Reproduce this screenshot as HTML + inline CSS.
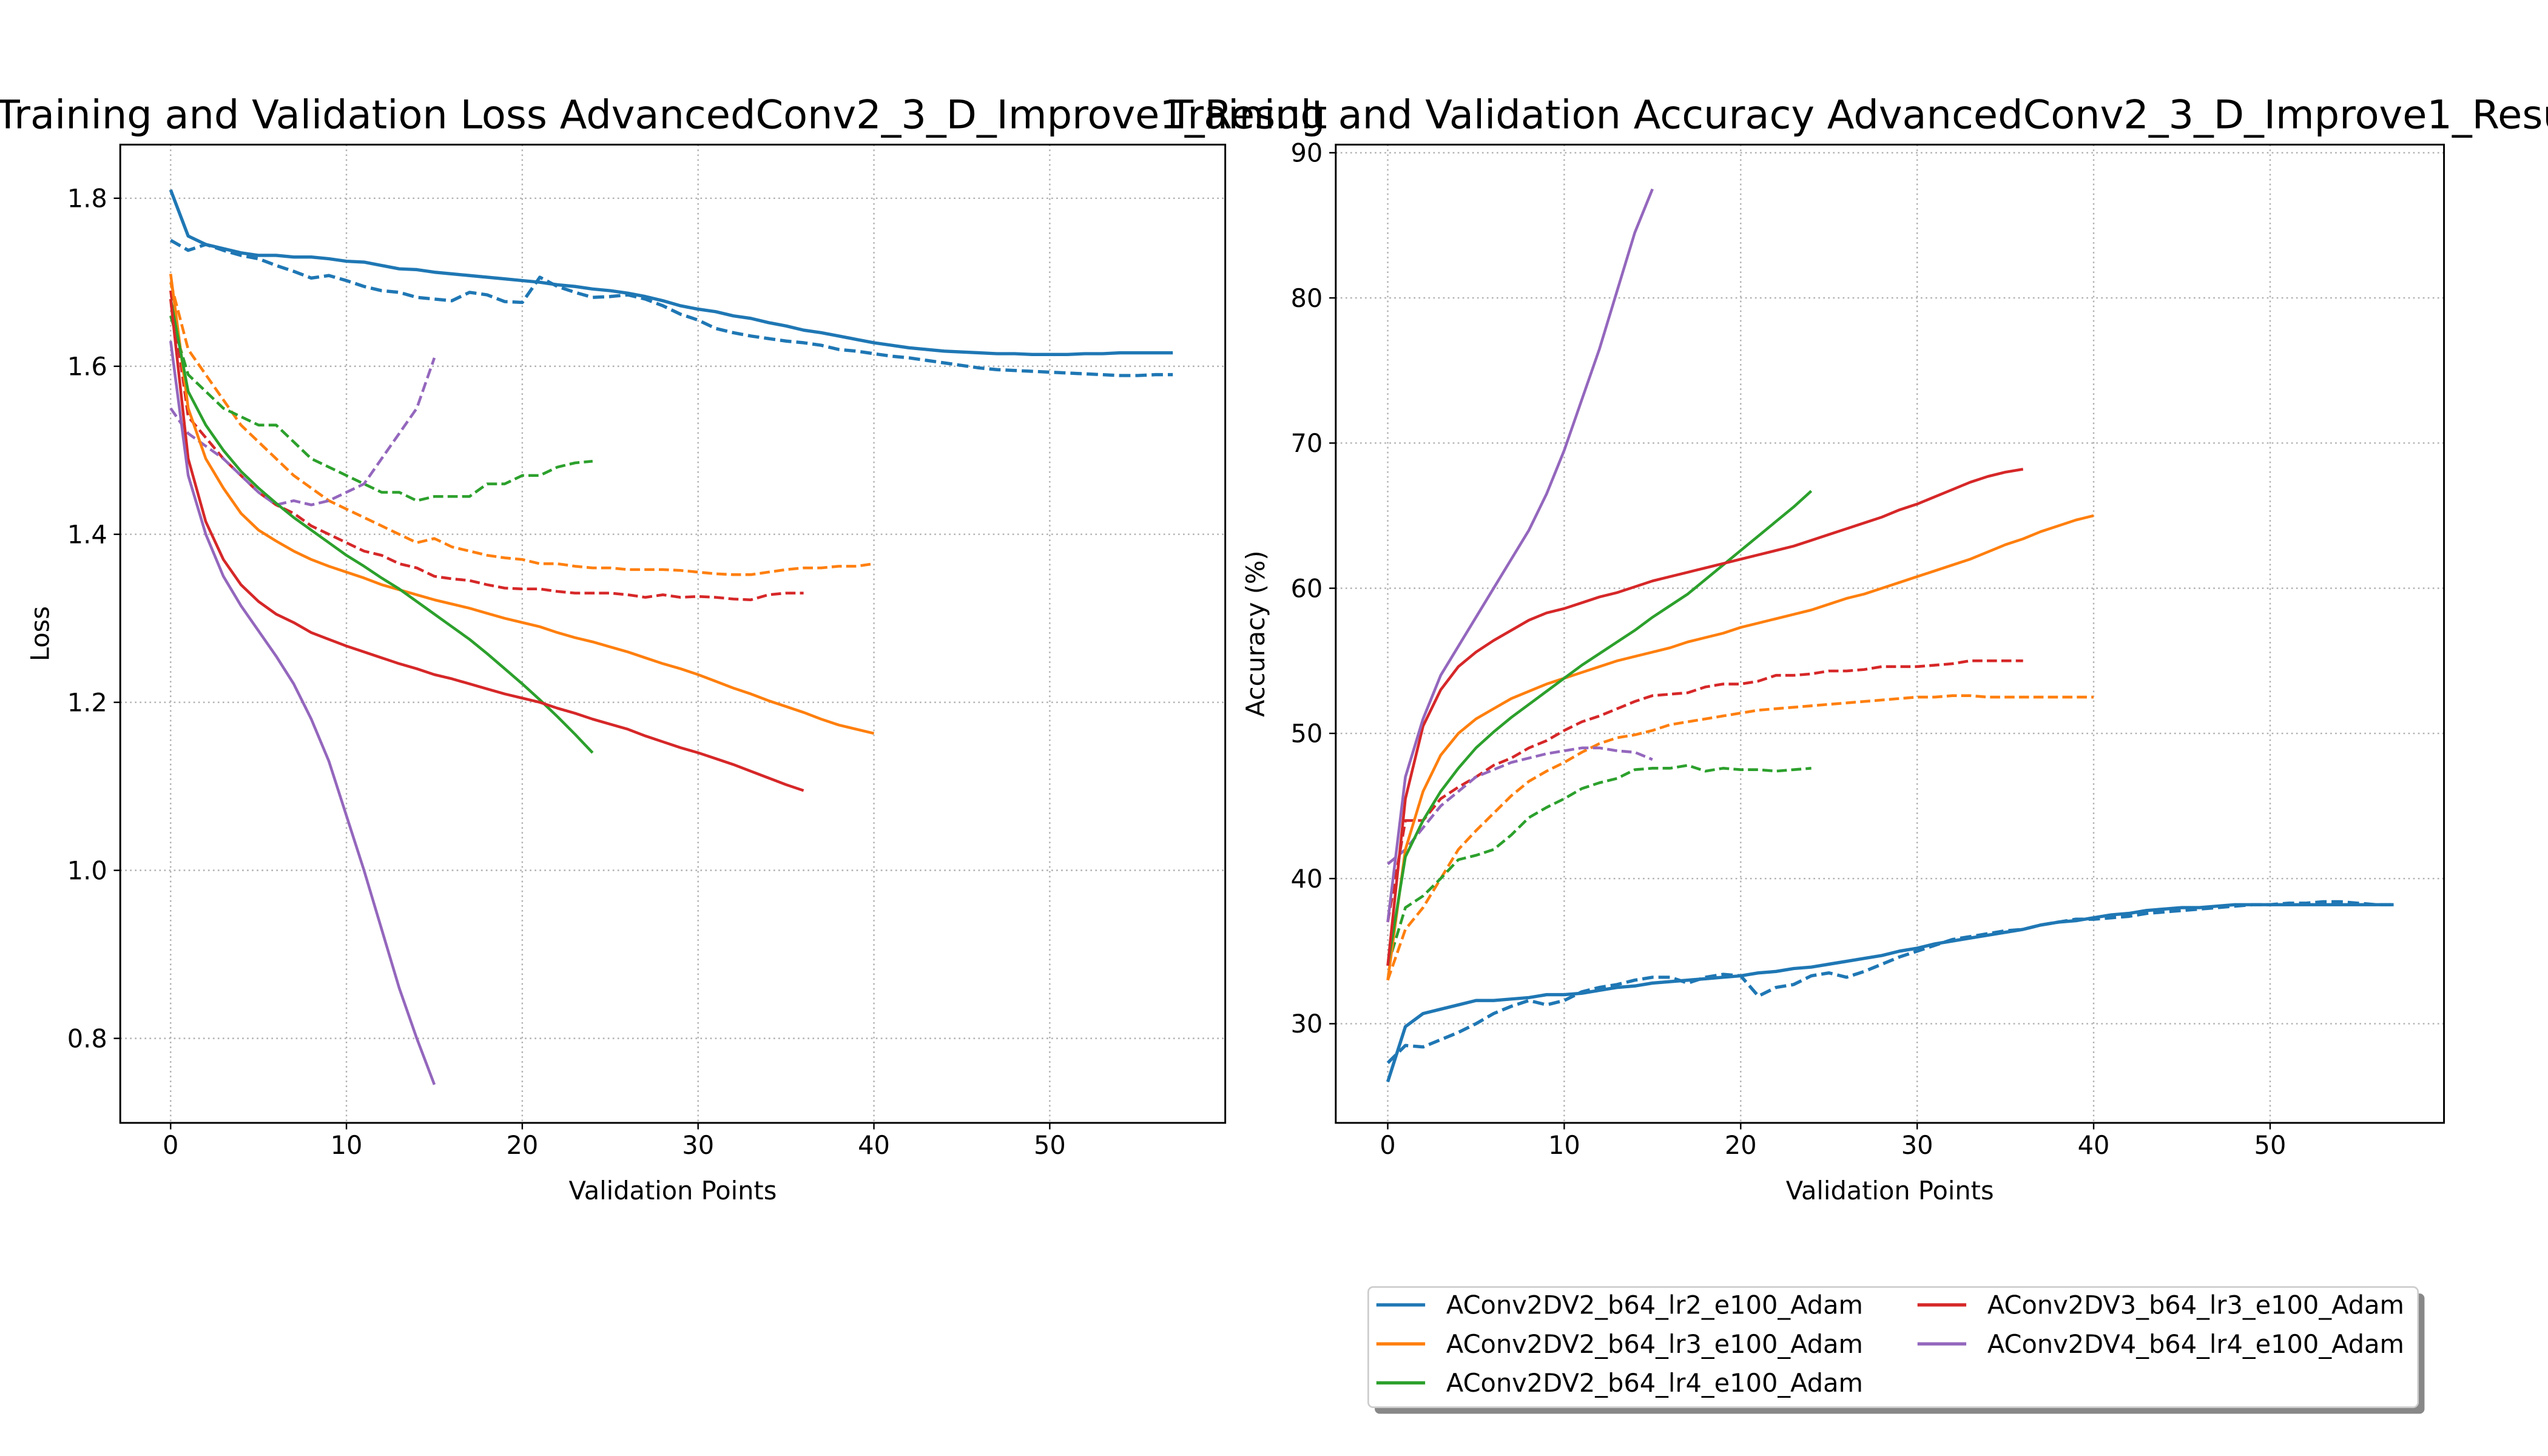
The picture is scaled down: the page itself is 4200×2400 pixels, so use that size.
<!DOCTYPE html>
<html><head><meta charset="utf-8"><style>
html,body{margin:0;padding:0;background:#fff;}
svg{display:block;font-family:"DejaVu Sans","Liberation Sans",sans-serif;}
</style></head><body>
<svg id="chart" width="4200" height="2400" viewBox="0 0 1568 896" xmlns="http://www.w3.org/2000/svg">
<rect width="1568" height="896" fill="#fff"/>
<text x="407" y="79" font-size="24.4" text-anchor="middle">Training and Validation Loss AdvancedConv2_3_D_Improve1_Result</text>
<text x="1158" y="79" font-size="24.4" text-anchor="middle">Training and Validation Accuracy AdvancedConv2_3_D_Improve1_Result</text>
<g id="left"></g>
<g id="right"></g>
<g>
<rect x="846" y="796" width="646" height="74" rx="3" fill="#888"/>
<rect x="842" y="792" width="646" height="74" rx="3" fill="#fff" stroke="#ccc" stroke-width="1"/>
<g font-size="15.5">
<line x1="847" y1="803" x2="877" y2="803" stroke="#1f77b4" stroke-width="2"/><text x="890" y="808.5">AConv2DV2_b64_lr2_e100_Adam</text>
<line x1="847" y1="827" x2="877" y2="827" stroke="#ff7f0e" stroke-width="2"/><text x="890" y="832.5">AConv2DV2_b64_lr3_e100_Adam</text>
<line x1="847" y1="851" x2="877" y2="851" stroke="#2ca02c" stroke-width="2"/><text x="890" y="856.5">AConv2DV2_b64_lr4_e100_Adam</text>
<line x1="1180" y1="803" x2="1210" y2="803" stroke="#d62728" stroke-width="2"/><text x="1223" y="808.5">AConv2DV3_b64_lr3_e100_Adam</text>
<line x1="1180" y1="827" x2="1210" y2="827" stroke="#9467bd" stroke-width="2"/><text x="1223" y="832.5">AConv2DV4_b64_lr4_e100_Adam</text>
</g></g>
</svg>
<script>
const colors=["#1f77b4","#ff7f0e","#2ca02c","#d62728","#9467bd"];
const seriesNames=["lr2","lr3","lr4","v3","v4"];
const lossTrain=[
[1.81,1.755,1.745,1.74,1.735,1.732,1.732,1.73,1.73,1.728,1.725,1.724,1.72,1.716,1.715,1.712,1.71,1.708,1.706,1.704,1.702,1.70,1.697,1.695,1.692,1.69,1.687,1.683,1.678,1.672,1.668,1.665,1.66,1.657,1.652,1.648,1.643,1.64,1.636,1.632,1.628,1.625,1.622,1.62,1.618,1.617,1.616,1.615,1.615,1.614,1.614,1.614,1.615,1.615,1.616,1.616,1.616,1.616],
[1.71,1.55,1.49,1.455,1.425,1.405,1.392,1.38,1.37,1.362,1.355,1.348,1.34,1.334,1.328,1.322,1.317,1.312,1.306,1.3,1.295,1.29,1.283,1.277,1.272,1.266,1.26,1.253,1.246,1.24,1.233,1.225,1.217,1.21,1.202,1.195,1.188,1.18,1.173,1.168,1.163],
[1.68,1.57,1.53,1.50,1.475,1.455,1.437,1.42,1.405,1.39,1.375,1.362,1.348,1.335,1.32,1.305,1.29,1.275,1.258,1.24,1.222,1.203,1.183,1.162,1.14],
[1.68,1.49,1.415,1.37,1.34,1.32,1.305,1.295,1.283,1.275,1.267,1.26,1.253,1.246,1.24,1.233,1.228,1.222,1.216,1.21,1.205,1.2,1.193,1.187,1.18,1.174,1.168,1.16,1.153,1.146,1.14,1.133,1.126,1.118,1.11,1.102,1.095],
[1.63,1.47,1.40,1.35,1.315,1.285,1.255,1.222,1.18,1.13,1.065,1.0,0.93,0.86,0.80,0.745]];
const lossVal=[
[1.75,1.738,1.745,1.738,1.732,1.728,1.72,1.713,1.705,1.708,1.702,1.695,1.69,1.688,1.682,1.68,1.678,1.688,1.685,1.677,1.676,1.706,1.695,1.688,1.682,1.683,1.685,1.68,1.672,1.662,1.655,1.645,1.64,1.636,1.633,1.63,1.628,1.625,1.62,1.618,1.615,1.612,1.61,1.607,1.604,1.601,1.598,1.596,1.595,1.594,1.593,1.592,1.591,1.59,1.589,1.589,1.59,1.59],
[1.70,1.62,1.59,1.56,1.53,1.51,1.49,1.47,1.455,1.44,1.43,1.42,1.41,1.40,1.39,1.395,1.385,1.38,1.375,1.372,1.37,1.365,1.365,1.362,1.36,1.36,1.358,1.358,1.358,1.357,1.355,1.353,1.352,1.352,1.355,1.358,1.36,1.36,1.362,1.362,1.365],
[1.66,1.59,1.57,1.55,1.54,1.53,1.53,1.51,1.49,1.48,1.47,1.46,1.45,1.45,1.44,1.445,1.445,1.445,1.46,1.46,1.47,1.47,1.48,1.485,1.487],
[1.69,1.54,1.515,1.49,1.47,1.45,1.435,1.425,1.41,1.4,1.39,1.38,1.375,1.365,1.36,1.35,1.347,1.345,1.34,1.336,1.335,1.335,1.332,1.33,1.33,1.33,1.328,1.325,1.328,1.325,1.326,1.325,1.323,1.322,1.328,1.33,1.33],
[1.55,1.52,1.505,1.49,1.47,1.45,1.435,1.44,1.435,1.44,1.45,1.46,1.49,1.52,1.55,1.61]];
const accTrain=[
[26,29.8,30.7,31.0,31.3,31.6,31.6,31.7,31.8,32.0,32.0,32.1,32.3,32.5,32.6,32.8,32.9,33.0,33.1,33.2,33.3,33.5,33.6,33.8,33.9,34.1,34.3,34.5,34.7,35.0,35.2,35.5,35.7,35.9,36.1,36.3,36.5,36.8,37.0,37.1,37.3,37.5,37.6,37.8,37.9,38.0,38.0,38.1,38.2,38.2,38.2,38.2,38.2,38.2,38.2,38.2,38.2,38.2],
[33,42,46,48.5,50.0,51.0,51.7,52.4,52.9,53.4,53.8,54.2,54.6,55.0,55.3,55.6,55.9,56.3,56.6,56.9,57.3,57.6,57.9,58.2,58.5,58.9,59.3,59.6,60.0,60.4,60.8,61.2,61.6,62.0,62.5,63.0,63.4,63.9,64.3,64.7,65.0],
[34,41.5,44,46,47.6,49.0,50.1,51.1,52.0,52.9,53.8,54.7,55.5,56.3,57.1,58.0,58.8,59.6,60.6,61.6,62.6,63.6,64.6,65.6,66.7],
[34,45.5,50.5,53.0,54.6,55.6,56.4,57.1,57.8,58.3,58.6,59.0,59.4,59.7,60.1,60.5,60.8,61.1,61.4,61.7,62.0,62.3,62.6,62.9,63.3,63.7,64.1,64.5,64.9,65.4,65.8,66.3,66.8,67.3,67.7,68.0,68.2],
[37,47,51,54,56,58,60,62,64,66.5,69.5,73,76.5,80.5,84.5,87.5]];
const accVal=[
[27.3,28.5,28.4,28.9,29.4,30.0,30.7,31.2,31.6,31.3,31.6,32.2,32.5,32.7,33.0,33.2,33.2,32.8,33.2,33.4,33.3,31.9,32.5,32.7,33.3,33.5,33.2,33.6,34.1,34.6,35.0,35.4,35.8,36.0,36.2,36.4,36.5,36.8,37.0,37.2,37.2,37.3,37.4,37.6,37.7,37.8,37.9,38.0,38.1,38.2,38.2,38.3,38.3,38.4,38.4,38.3,38.2,38.2],
[33,36.5,38.0,40,42,43.3,44.5,45.7,46.7,47.4,48.0,48.7,49.3,49.7,49.9,50.2,50.6,50.8,51.0,51.2,51.4,51.6,51.7,51.8,51.9,52.0,52.1,52.2,52.3,52.4,52.5,52.5,52.6,52.6,52.5,52.5,52.5,52.5,52.5,52.5,52.5],
[34,38,38.8,40.0,41.3,41.6,42.0,43.0,44.2,44.9,45.5,46.2,46.6,46.9,47.5,47.6,47.6,47.8,47.4,47.6,47.5,47.5,47.4,47.5,47.6],
[37,44,44,45.5,46.3,47,47.8,48.3,49,49.5,50.2,50.8,51.2,51.7,52.2,52.6,52.7,52.8,53.2,53.4,53.4,53.6,54.0,54.0,54.1,54.3,54.3,54.4,54.6,54.6,54.6,54.7,54.8,55.0,55.0,55.0,55.0],
[41,42,43.5,45,46,47,47.5,48,48.3,48.6,48.8,49.0,49.0,48.8,48.7,48.2]];
const xTicks=[0,10,20,30,40,50];
const lossTicks=[0.8,1.0,1.2,1.4,1.6,1.8];
const accTicks=[30,40,50,60,70,80,90];

const NS="http://www.w3.org/2000/svg";
function mk(p,tag,attrs){const e=document.createElementNS(NS,tag);for(const k in attrs)e.setAttribute(k,attrs[k]);p.appendChild(e);return e;}
function panel(g,box,xs,ys,yTicks,yFmt,ylabel,train,val,prefix){
  const [L,T,R,B]=box;
  for(const t of xTicks){const x=xs(t);
    const gl=mk(g,'line',{x1:x,y1:T,x2:x,y2:B,stroke:'#b0b0b0','stroke-width':0.9,'stroke-dasharray':'1,2'});
    
    mk(g,'line',{x1:x,y1:B,x2:x,y2:B+4,stroke:'#000','stroke-width':0.9});
    const tx=mk(g,'text',{x:x,y:B+19,'font-size':15.5,'text-anchor':'middle'});tx.textContent=t;
    }
  for(const t of yTicks){const y=ys(t);
    const gl=mk(g,'line',{x1:L,y1:y,x2:R,y2:y,stroke:'#b0b0b0','stroke-width':0.9,'stroke-dasharray':'1,2'});
    
    mk(g,'line',{x1:L-4,y1:y,x2:L,y2:y,stroke:'#000','stroke-width':0.9});
    const tx=mk(g,'text',{x:L-8,y:y+5.5,'font-size':15.5,'text-anchor':'end'});tx.textContent=yFmt(t);
    }
  const clip=mk(g,'clipPath',{id:prefix+'clip'});mk(clip,'rect',{x:L,y:T,width:R-L,height:B-T});
  const lines=mk(g,'g',{'clip-path':'url(#'+prefix+'clip)'});
  function draw(arr,i,dash,kind){
    const d=arr.map((v,j)=>(j?'L':'M')+xs(j).toFixed(2)+','+ys(v).toFixed(2)).join('');
    const a={d:d,fill:'none',stroke:colors[i],'stroke-width':i==0?2.0:1.7,'stroke-linejoin':'round'};
    if(dash)a['stroke-dasharray']=i==0?'7,3':'6.2,2.7';
    const p=mk(lines,'path',a);
    
    
  }
  val.forEach((a,i)=>draw(a,i,true,'val'));
  train.forEach((a,i)=>draw(a,i,false,'train'));
  const sp=mk(g,'rect',{x:L,y:T,width:R-L,height:B-T,fill:'none',stroke:'#000','stroke-width':1.1});
  
  const xl=mk(g,'text',{x:(L+R)/2,y:B+47,'font-size':15.5,'text-anchor':'middle'});xl.textContent='Validation Points';
  
  const yl=mk(g,'text',{x:0,y:0,'font-size':15.5,'text-anchor':'middle',transform:'translate('+(L-44)+','+((T+B)/2)+') rotate(-90)'});yl.textContent=ylabel;
  
}
const lx=v=>105+v*10.82, ly=v=>122+(1.8-v)*517;
panel(document.getElementById('left'),[74,89,754,691],lx,ly,lossTicks,t=>t.toFixed(1),'Loss',lossTrain,lossVal,'loss-');
const rx=v=>854+v*10.86, ry=v=>94+(90-v)*8.933;
panel(document.getElementById('right'),[822,89,1504,691],rx,ry,accTicks,t=>t,'Accuracy (%)',accTrain,accVal,'acc-');
</script>
</body></html>
